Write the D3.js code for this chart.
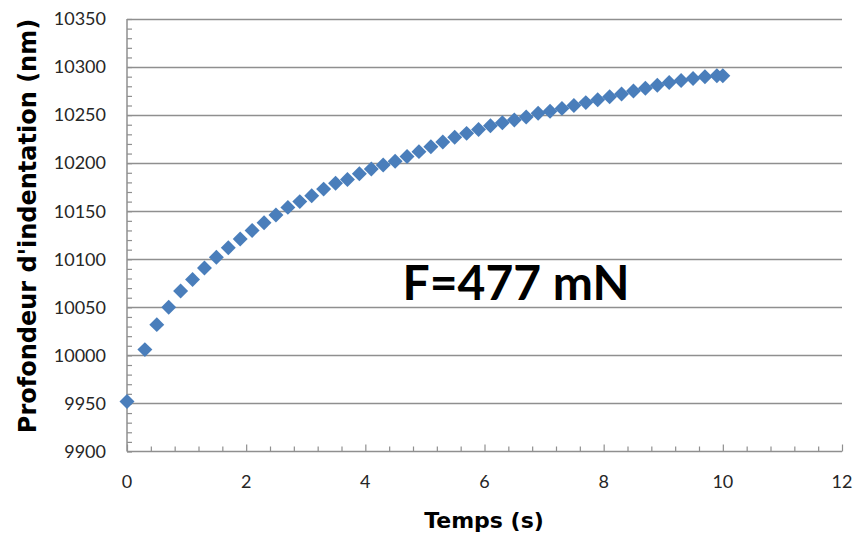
<!DOCTYPE html>
<html><head><meta charset="utf-8">
<script src="https://cdn.jsdelivr.net/npm/d3@7"></script>
<style>html,body{margin:0;padding:0;background:#fff;}svg{display:block;}</style>
</head><body>
<svg id="chart" width="857" height="537"></svg>
<script>
const times = [0, 0.3, 0.5, 0.7, 0.9, 1.1, 1.3, 1.5, 1.7, 1.9, 2.1, 2.3, 2.5, 2.7, 2.9, 3.1, 3.3, 3.5, 3.7, 3.9,
  4.1, 4.3, 4.5, 4.7, 4.9, 5.1, 5.3, 5.5, 5.7, 5.9, 6.1, 6.3, 6.5, 6.7, 6.9, 7.1, 7.3, 7.5, 7.7, 7.9,
  8.1, 8.3, 8.5, 8.7, 8.9, 9.1, 9.3, 9.5, 9.7, 9.9, 10.0];
const depths = [9952, 10006, 10032, 10050, 10067, 10079, 10091, 10102, 10112, 10121, 10130, 10138, 10146, 10154, 10160, 10166, 10173, 10179, 10183, 10189,
  10194, 10198, 10202, 10207, 10212, 10217, 10222, 10227, 10231, 10235, 10239, 10242, 10245, 10248, 10252, 10254, 10257, 10260, 10263, 10266,
  10269, 10272, 10275, 10278, 10281, 10284, 10286, 10288, 10290, 10291, 10291];
const xTicks = [0, 2, 4, 6, 8, 10, 12];
const yTicks = [9900, 9950, 10000, 10050, 10100, 10150, 10200, 10250, 10300, 10350];
const xTitle = "Temps (s)";
const yTitle = "Profondeur d'indentation (nm)";
const annotation = "F=477 mN";

const svg = d3.select("#chart");
const x = d3.scaleLinear().domain([0, 12]).range([127, 842]);
const y = d3.scaleLinear().domain([9900, 10350]).range([451.5, 19]);
const gridColor = "#8f8f8f";
const font = "Lato, 'Open Sans', sans-serif";
const titleFont = "'DejaVu Sans', Verdana, sans-serif";

svg.append("rect").attr("width", 857).attr("height", 537).attr("fill", "#fff");

// gridlines
svg.append("g").selectAll("line").data(yTicks.filter(d => d > 9900)).join("line")
  .attr("x1", x(0)).attr("x2", x(12))
  .attr("y1", d => Math.round(y(d)) + 0.5).attr("y2", d => Math.round(y(d)) + 0.5)
  .attr("stroke", gridColor).attr("stroke-width", 1.5);

// y axis (minor ticks inside)
const yAxis = d3.axisRight(y).tickValues(d3.range(9900, 10351, 10)).tickSize(5).tickFormat("");
const gy = svg.append("g").attr("transform", `translate(${x(0)},0)`).call(yAxis);
gy.select(".domain").remove();
gy.selectAll(".tick line").attr("stroke", gridColor).attr("stroke-width", 1.2);
svg.append("line").attr("x1", x(0)).attr("x2", x(0)).attr("y1", y(10350)).attr("y2", y(9900))
  .attr("stroke", gridColor).attr("stroke-width", 1.5);

// x axis (ticks inside)
const xMinor = d3.range(0, 12.001, 0.4).map(d => +d.toFixed(1));
const xAxis = d3.axisTop(x).tickValues(xMinor).tickSize(5).tickFormat("");
const gx = svg.append("g").attr("transform", `translate(0,${y(9900)})`).call(xAxis);
gx.select(".domain").remove();
gx.selectAll(".tick line").attr("stroke", gridColor).attr("stroke-width", 1.2)
  .attr("y2", d => (Math.abs(d % 2) < 1e-6 || Math.abs(d % 2 - 2) < 1e-6) ? -7 : -5);
svg.append("line").attr("x1", x(0)).attr("x2", x(12)).attr("y1", y(9900)).attr("y2", y(9900))
  .attr("stroke", gridColor).attr("stroke-width", 1.5);

// tick labels
svg.append("g").selectAll("text").data(yTicks).join("text")
  .attr("x", 106).attr("y", d => y(d)).attr("dy", "0.35em")
  .attr("text-anchor", "end").attr("font-family", font).attr("font-size", 18).attr("fill", "#262626")
  .text(d => d);
svg.append("g").selectAll("text").data(xTicks).join("text")
  .attr("x", d => x(d)).attr("y", 488)
  .attr("text-anchor", "middle").attr("font-family", font).attr("font-size", 18).attr("fill", "#262626")
  .text(d => d);

// axis titles
svg.append("text").attr("x", 484).attr("y", 528).attr("text-anchor", "middle")
  .attr("font-family", titleFont).attr("font-weight", "bold").attr("font-size", 22).attr("fill", "#000")
  .text(xTitle);
svg.append("text").attr("transform", "translate(36,226) rotate(-90)").attr("text-anchor", "middle")
  .attr("font-family", titleFont).attr("font-weight", "bold").attr("font-size", 24).attr("fill", "#000")
  .text(yTitle);

// data markers
const diamond = d3.symbol().type(d3.symbolSquare).size(112);
svg.append("g").selectAll("path").data(times.map((t, i) => ({t, v: depths[i]}))).join("path")
  .attr("d", diamond)
  .attr("transform", d => `translate(${x(d.t)},${y(d.v)}) rotate(45)`)
  .attr("fill", "#4a7ebb");

// annotation
svg.append("text").attr("x", 516).attr("y", 300).attr("text-anchor", "middle")
  .attr("font-family", font).attr("font-weight", "bold").attr("font-size", 48).attr("fill", "#000")
  .text(annotation);
</script>
</body></html>
